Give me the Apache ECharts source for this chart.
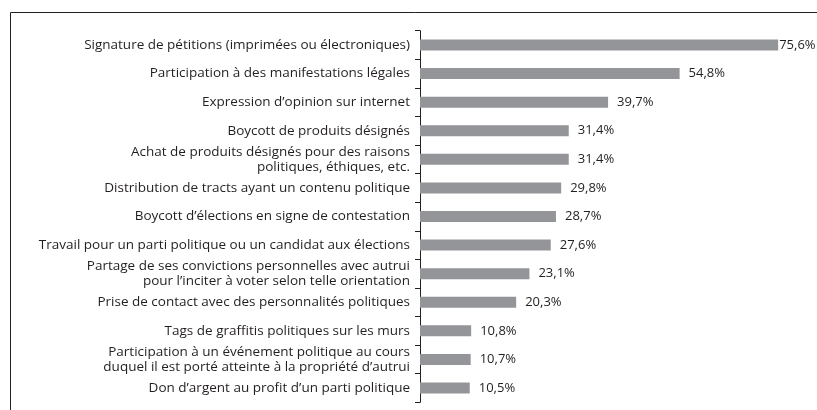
<!DOCTYPE html>
<html>
<head>
<meta charset="utf-8">
<script src="https://cdn.jsdelivr.net/npm/echarts@6/dist/echarts.min.js"></script>
<style>
  html, body { margin: 0; padding: 0; background: #fff; }
  #chart { width: 817px; height: 410px; }
</style>
</head>
<body>
<div id="chart"></div>
<script>
// catégories, du haut vers le bas
const categories = [
  'Signature de pétitions (imprimées ou électroniques)',
  'Participation à des manifestations légales',
  'Expression d\u2019opinion sur internet',
  'Boycott de produits désignés',
  'Achat de produits désignés pour des raisons\npolitiques, éthiques, etc.',
  'Distribution de tracts ayant un contenu politique',
  'Boycott d\u2019élections en signe de contestation',
  'Travail pour un parti politique ou un candidat aux élections',
  'Partage de ses convictions personnelles avec autrui\npour l\u2019inciter à voter selon telle orientation',
  'Prise de contact avec des personnalités politiques',
  'Tags de graffitis politiques sur les murs',
  'Participation à un événement politique au cours\nduquel il est porté atteinte à la propriété d\u2019autrui',
  'Don d\u2019argent au profit d\u2019un parti politique'
];
const values = [75.6, 54.8, 39.7, 31.4, 31.4, 29.8, 28.7, 27.6, 23.1, 20.3, 10.8, 10.7, 10.5];

const textColor = '#231f20';
const barColor = '#939598';
const font = 'Open Sans';

const chart = echarts.init(document.getElementById('chart'), null, { renderer: 'canvas' });

chart.setOption({
  animation: false,
  textStyle: { fontFamily: font, color: textColor },
  graphic: [
    {
      // cadre
      type: 'rect',
      left: 8,
      top: 10,
      shape: { width: 830, height: 430 },
      style: { fill: 'none', stroke: '#231f20', lineWidth: 1 },
      silent: true
    }
  ],
  grid: {
    left: 420,
    top: 30.7,
    width: 379,
    height: 371.6,
    containLabel: false
  },
  xAxis: {
    type: 'value',
    min: 0,
    max: 80,
    show: false
  },
  yAxis: {
    type: 'category',
    inverse: true,
    data: categories,
    axisLine: { show: true, lineStyle: { color: '#231f20', width: 1 } },
    axisTick: { show: true, length: 5, lineStyle: { color: '#231f20' } },
    axisLabel: {
      color: textColor,
      fontSize: 13.5,
      fontFamily: font,
      margin: 10,
      align: 'right',
      lineHeight: 15
    }
  },
  series: [
    {
      type: 'bar',
      data: values.map((v, i) => ({
        value: v,
        label: { distance: i === 0 ? 1 : 9 }
      })),
      barWidth: 11,
      itemStyle: { color: barColor },
      label: {
        show: true,
        position: 'right',
        color: textColor,
        fontSize: 13,
        fontFamily: font,
        formatter: p => p.value.toFixed(1).replace('.', ',') + '%'
      }
    }
  ]
});
</script>
</body>
</html>
